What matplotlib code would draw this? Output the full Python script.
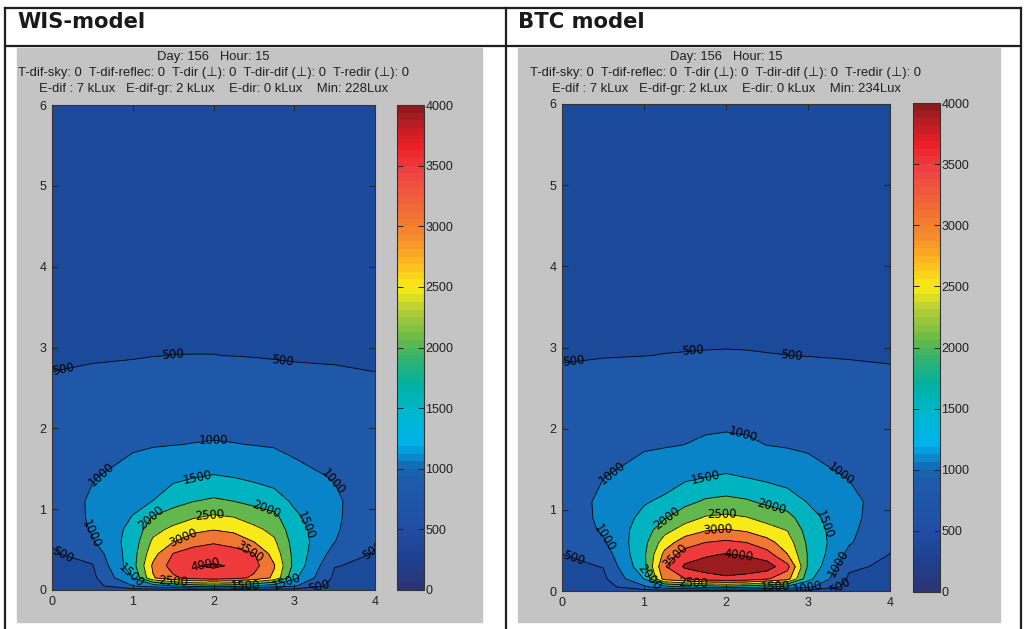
"""
Daylight illuminance on a vertical section: WIS-model vs. BTC model.

Two MATLAB-style filled contour plots (lux) set in a two-column table,
each with its header lines and a colorbar from 0 to 4000 lux.

Writes: out.png
"""

import matplotlib

matplotlib.use("Agg")

import matplotlib.pyplot as plt
import numpy as np
from matplotlib.cm import ScalarMappable
from matplotlib.colors import LinearSegmentedColormap, Normalize
from matplotlib.lines import Line2D
from matplotlib.patches import Rectangle

# ---------------------------------------------------------------- data
# sample grid (m); illuminance at these points
X_POS = [0.0, 0.5, 1.0, 1.25, 1.5, 1.75, 2.0, 2.25, 2.5, 2.75, 3.0, 3.5, 4.0]
Y_POS = [0.0, 0.05, 0.15, 0.3, 0.45, 0.6, 0.75, 0.9, 1.1, 1.4, 1.8, 2.3, 2.9, 4.0, 5.0, 6.0]

# one row per x position = vertical profile, bottom (y=0) to top (y=6), lux
WIS_PROFILES = [
    [230, 250, 300, 380, 460, 530, 610, 660, 690, 690, 650, 580, 460, 330, 270, 228],
    [250, 300, 380, 470, 680, 960, 1040, 1070, 1070, 970, 830, 655, 470, 340, 285, 245],
    [280, 990, 1500, 1800, 1780, 1720, 1640, 1520, 1380, 1175, 940, 730, 480, 355, 300, 260],
    [300, 1200, 2950, 3080, 2820, 2590, 2330, 2040, 1505, 1260, 975, 750, 495, 365, 305, 265],
    [300, 1500, 3400, 3720, 3510, 2970, 2620, 2250, 1820, 1380, 990, 770, 502, 370, 310, 270],
    [300, 1700, 3700, 3980, 3700, 3330, 2840, 2460, 1985, 1475, 1010, 770, 502, 375, 315, 275],
    [300, 1800, 3800, 4050, 3760, 3440, 2975, 2580, 2075, 1535, 1025, 785, 502, 380, 320, 280],
    [300, 1700, 3700, 3960, 3700, 3310, 2875, 2505, 1995, 1488, 1012, 770, 497, 375, 315, 275],
    [300, 1500, 3400, 3680, 3520, 2990, 2625, 2283, 1870, 1396, 990, 760, 490, 365, 305, 265],
    [300, 1200, 2900, 3040, 2800, 2580, 2360, 2140, 1720, 1300, 965, 735, 480, 360, 300, 262],
    [300, 1050, 1600, 1850, 1850, 1800, 1720, 1600, 1420, 1140, 900, 700, 470, 350, 295, 255],
    [260, 320, 400, 520, 800, 1010, 1060, 1080, 1080, 970, 830, 650, 465, 340, 285, 250],
    [240, 260, 320, 400, 470, 540, 610, 660, 690, 690, 650, 580, 460, 330, 275, 235],
]

BTC_PROFILES = [
    [235, 260, 320, 410, 495, 580, 650, 700, 730, 730, 690, 610, 480, 345, 280, 234],
    [250, 300, 390, 510, 720, 930, 1060, 1100, 1100, 990, 840, 680, 490, 355, 295, 255],
    [280, 900, 1510, 1850, 1900, 1840, 1740, 1620, 1460, 1210, 945, 740, 498, 370, 310, 270],
    [300, 1300, 3200, 3450, 3140, 2750, 2325, 1963, 1590, 1285, 971, 760, 503, 380, 320, 275],
    [300, 1500, 3490, 4080, 3740, 3250, 2733, 2300, 1867, 1417, 1003, 783, 505, 390, 325, 280],
    [300, 1700, 3800, 4200, 3940, 3495, 2965, 2556, 2071, 1497, 1065, 800, 507, 395, 330, 285],
    [300, 1800, 3900, 4300, 4030, 3588, 3040, 2611, 2136, 1556, 1089, 809, 508, 400, 335, 290],
    [300, 1700, 3850, 4220, 3960, 3490, 2930, 2530, 2060, 1495, 1065, 800, 507, 395, 330, 285],
    [300, 1500, 3550, 4250, 3710, 3170, 2706, 2326, 1900, 1400, 995, 790, 504, 385, 320, 275],
    [300, 1300, 3200, 3650, 3010, 2741, 2480, 2180, 1740, 1308, 966, 755, 501, 375, 315, 270],
    [300, 1100, 1650, 1930, 1960, 1900, 1800, 1680, 1475, 1200, 930, 730, 496, 365, 305, 265],
    [260, 330, 420, 580, 860, 1050, 1100, 1140, 1150, 980, 840, 670, 485, 355, 295, 255],
    [240, 265, 320, 415, 490, 570, 640, 690, 720, 720, 680, 605, 478, 345, 282, 240],
]

CONTOUR_LEVELS = [500, 1000, 1500, 2000, 2500, 3000, 3500, 4000]
FILL_LEVELS = [0, 500, 1000, 1500, 2000, 2500, 3000, 3500, 4000, 5000]
CBAR_TICKS = [0, 500, 1000, 1500, 2000, 2500, 3000, 3500, 4000]

INFO_LINE_1 = "Day: 156   Hour: 15"
INFO_LINE_2 = ("T-dif-sky: 0  T-dif-reflec: 0  T-dir (\u22a5): 0  "
               "T-dir-dif (\u22a5): 0  T-redir (\u22a5): 0")
WIS_INFO_3 = "E-dif : 7 kLux   E-dif-gr: 2 kLux    E-dir: 0 kLux    Min: 228Lux"
BTC_INFO_3 = "E-dif : 7 kLux   E-dif-gr: 2 kLux    E-dir: 0 kLux    Min: 234Lux"

# where the contour labels sit (approx. spots on the lines, data units)
WIS_LABEL_SPOTS = [
    (0.15, 2.66), (1.5, 2.91), (2.85, 2.80), (0.15, 0.5), (3.95, 0.5),
    (2.0, 1.85), (0.6, 1.45), (3.45, 1.3), (0.5, 0.7),
    (1.8, 1.42), (3.25, 0.85), (1.2, 0.93), (2.65, 1.0),
    (1.95, 0.93), (1.6, 0.7), (2.45, 0.5), (1.9, 0.3),
    (1.0, 0.2), (1.5, 0.1), (2.4, 0.04), (2.9, 0.12), (3.3, 0.05),
]
BTC_LABEL_SPOTS = [
    (0.15, 2.78), (1.6, 2.96), (2.8, 2.90), (0.15, 0.43),
    (2.2, 1.88), (0.55, 1.55), (3.4, 1.45), (0.5, 0.65),
    (1.75, 1.42), (3.3, 0.85), (1.3, 0.85), (2.55, 1.05),
    (1.95, 0.94), (1.9, 0.76), (1.35, 0.45), (2.15, 0.46), (3.35, 0.35),
    (1.1, 0.18), (1.6, 0.1), (2.6, 0.05), (3.0, 0.05), (3.4, 0.05),
]

PANELS = [
    {"title": "WIS-model", "profiles": WIS_PROFILES, "labels": WIS_LABEL_SPOTS,
     "info": [INFO_LINE_1, INFO_LINE_2, WIS_INFO_3]},
    {"title": "BTC model", "profiles": BTC_PROFILES, "labels": BTC_LABEL_SPOTS,
     "info": [INFO_LINE_1, INFO_LINE_2, BTC_INFO_3]},
]

# ---------------------------------------------------------------- style
W, H = 1026, 629
GREY = "#c4c4c4"
LINE = "#1e1e1e"
TEXT = "#202020"
SANS = ["Liberation Sans", "DejaVu Sans"]

# filled band colours (below 500, 500-1000, ... , above 4000)
BAND_COLORS = [
    "#1b4a9b", "#1f58a8", "#0a84c8", "#00b3c1", "#62b84f",
    "#f7ea18", "#f07634", "#ee3a3b", "#9a1c1e",
]

# 64-step colorbar map, anchors as (fraction of 0..4000, colour)
CMAP_ANCHORS = [
    (0.00, "#2a3577"), (0.06, "#1f4092"), (0.12, "#1f4ea2"), (0.22, "#1e5bab"),
    (0.25, "#1468b4"), (0.27, "#0a88cb"), (0.30, "#00b2ea"), (0.36, "#00b7d0"),
    (0.42, "#00b1a4"), (0.48, "#35b26c"), (0.52, "#6cbb46"), (0.58, "#b6cf36"),
    (0.625, "#f8ed16"), (0.67, "#fcc01f"), (0.72, "#f7932a"), (0.76, "#f27c30"),
    (0.82, "#ef5b3b"), (0.87, "#ee4244"), (0.92, "#ec1f26"), (0.96, "#c21e24"),
    (1.00, "#8f1a1b"),
]
CMAP = LinearSegmentedColormap.from_list("daylight", CMAP_ANCHORS, N=64)
NORM = Normalize(vmin=0, vmax=4000)

# pixel boxes (left, top, right, bottom) per column of the table
COLS = [
    {"x0": 5, "grey": (17, 48, 482, 622), "ax": (52, 105, 375, 590), "cbar": (397, 105, 424, 590)},
    {"x0": 506, "grey": (518, 48, 1000, 622), "ax": (562, 104, 890, 591), "cbar": (913, 103, 940, 592)},
]


def fx(px):
    return px / W


def fy(py):
    return 1 - py / H


def box(l, t, r, b):
    return [fx(l), fy(b), (r - l) / W, (b - t) / H]


def style_ticks(ax):
    ax.tick_params(direction="in", length=4, width=0.7, top=True, right=True,
                   labelsize=9, labelcolor=TEXT, color="#222222", pad=4)
    for lab in ax.get_xticklabels() + ax.get_yticklabels():
        lab.set_family(SANS)
    for sp in ax.spines.values():
        sp.set_linewidth(0.8)
        sp.set_color("#333333")


def main():
    fig = plt.figure(figsize=(W / 100, H / 100), dpi=100)
    fig.patch.set_facecolor("white")

    # table frame
    for x in (5, 506, 1021):
        fig.add_artist(Line2D([fx(x), fx(x)], [fy(8), fy(629)], color=LINE, lw=1.6))
    for y in (8, 46):
        fig.add_artist(Line2D([fx(5), fx(1021)], [fy(y), fy(y)], color=LINE, lw=1.6))

    xx, yy = np.meshgrid(X_POS, Y_POS)

    for col, panel in zip(COLS, PANELS):
        fig.text(fx(col["x0"] + 12), fy(22), panel["title"], fontsize=15.2,
                 fontweight="bold", color="#1a1a1a", va="center", ha="left",
                 family="DejaVu Sans")

        gl, gt, gr, gb = col["grey"]
        fig.add_artist(Rectangle((fx(gl), fy(gb)), (gr - gl) / W, (gb - gt) / H,
                                 transform=fig.transFigure, color=GREY, zorder=-5))

        al, at, ar, ab = col["ax"]
        cx = (al + ar) / 2
        for line, py in zip(panel["info"], (57, 73, 89)):
            fig.text(fx(cx), fy(py), line, fontsize=9.4, color=TEXT,
                     ha="center", va="center", family=SANS)

        z = np.array(panel["profiles"], dtype=float).T
        ax = fig.add_axes(box(*col["ax"]))
        ax.set_xlim(0, 4)
        ax.set_ylim(0, 6)
        ax.contourf(xx, yy, z, levels=FILL_LEVELS, colors=BAND_COLORS)
        cs = ax.contour(xx, yy, z, levels=CONTOUR_LEVELS, colors="k", linewidths=0.6)
        ax.clabel(cs, fmt="%d", fontsize=8.5, inline=False, colors="k",
                  manual=panel["labels"])
        ax.set_xticks(range(0, 5))
        ax.set_yticks(range(0, 7))
        style_ticks(ax)

        cax = fig.add_axes(box(*col["cbar"]))
        cb = fig.colorbar(ScalarMappable(norm=NORM, cmap=CMAP), cax=cax, ticks=CBAR_TICKS)
        cb.outline.set_linewidth(0.8)
        cb.outline.set_edgecolor("#333333")
        cax.tick_params(direction="in", length=4, width=0.7, left=True, right=True,
                        labelsize=9, labelcolor=TEXT, color="#222222", pad=1)
        for lab in cax.get_yticklabels():
            lab.set_family(SANS)

    fig.savefig("out.png", dpi=100, facecolor=fig.get_facecolor())
    plt.close(fig)


if __name__ == "__main__":
    main()
